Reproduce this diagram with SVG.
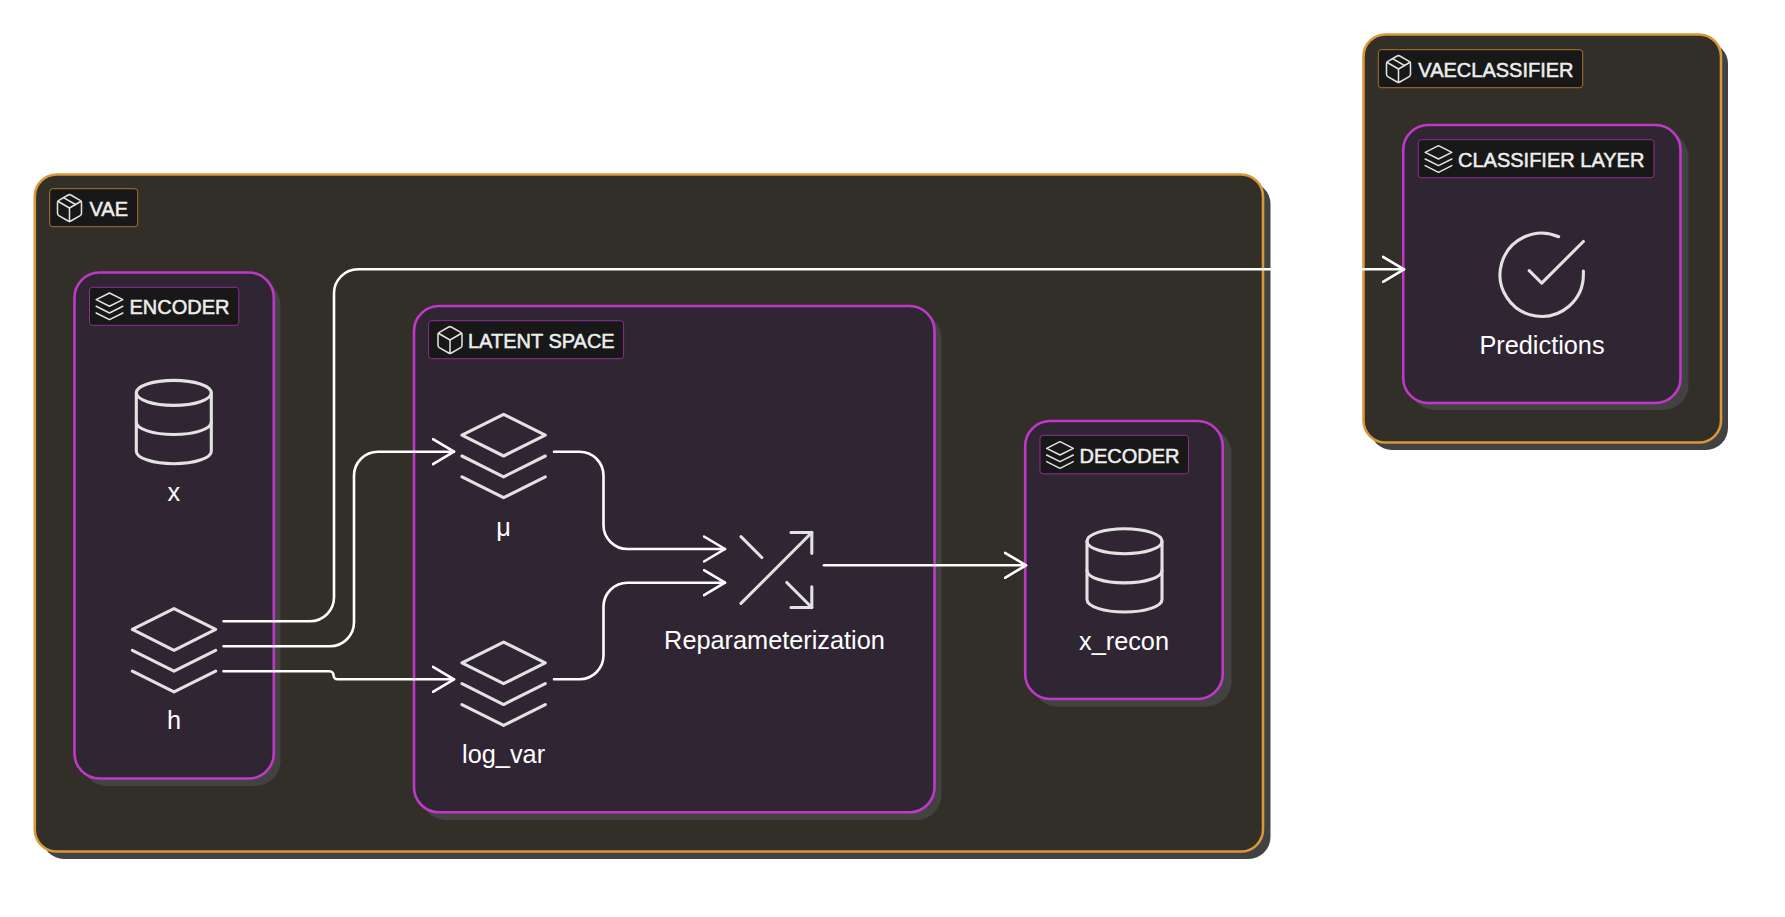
<svg xmlns="http://www.w3.org/2000/svg" xmlns:xlink="http://www.w3.org/1999/xlink" width="1785" height="917" viewBox="0 0 1785 917">
<style>
.shadow{fill:#424242;stroke:none}
.outer{fill:#322f28;stroke:#d8973a;stroke-width:2.6}
.inner{fill:#302633;stroke:#c038c8;stroke-width:2.6}
.tag{fill:#181818;stroke-width:1}
.tag.o{stroke:#a8762f}
.tag.m{stroke:#8f2d96}
.tagtext{font-family:"Liberation Sans",Arial,sans-serif;font-size:20px;fill:#eeeeee;stroke:#eeeeee;stroke-width:.5}
.nodetext{font-family:"Liberation Sans",Arial,sans-serif;font-size:25.3px;fill:#ffffff;text-anchor:middle}
.ic{fill:none;stroke:#e2e2e2;stroke-linecap:round;stroke-linejoin:round}
.big{stroke-width:.74}
.small{stroke-width:1.15}
.conn{fill:none;stroke:#ffffff;stroke-width:2.6;stroke-linecap:round;stroke-linejoin:round}
</style>
<defs>
<g id="i-db"><ellipse cx="12" cy="5" rx="9" ry="3"/><path d="M3 5V19A9 3 0 0 0 21 19V5"/><path d="M3 12A9 3 0 0 0 21 12"/></g>
<g id="i-layers"><polygon points="12 2 2 7 12 12 22 7 12 2"/><polyline points="2 17 12 22 22 17"/><polyline points="2 12 12 17 22 12"/></g>
<g id="i-box"><path d="M21 16V8a2 2 0 0 0-1-1.73l-7-4a2 2 0 0 0-2 0l-7 4A2 2 0 0 0 3 8v8a2 2 0 0 0 1 1.73l7 4a2 2 0 0 0 2 0l7-4A2 2 0 0 0 21 16z"/><polyline points="3.27 6.96 12 12.01 20.73 6.96"/><line x1="12" y1="22.08" x2="12" y2="12"/></g>
<g id="i-package"><line x1="16.5" y1="9.4" x2="7.5" y2="4.21"/><use href="#i-box"/></g>
<g id="i-shuffle"><polyline points="16 3 21 3 21 8"/><line x1="4" y1="20" x2="21" y2="3"/><polyline points="21 16 21 21 16 21"/><line x1="15" y1="15" x2="21" y2="21"/><line x1="4" y1="4" x2="9" y2="9"/></g>
<g id="i-check"><path d="M22 11.08V12a10 10 0 1 1-5.93-9.14"/><polyline points="22 4 12 14.01 9 11.01"/></g>
<marker id="arrow" viewBox="0 0 24 28" refX="22" refY="14" markerWidth="24" markerHeight="28" markerUnits="userSpaceOnUse" orient="auto"><polyline points="1 1.5 22 14 1 26.5" fill="none" stroke="#ffffff" stroke-width="2.6" stroke-linecap="round" stroke-linejoin="round"/></marker>
</defs>

<g id="vae">
<rect class="shadow" x="42" y="182" width="1228.5" height="677" rx="22"/>
<rect class="outer" x="34.8" y="174.5" width="1228.2" height="677" rx="22"/>
<rect class="tag o" x="49.7" y="188.7" width="88" height="38" rx="3"/>
<use class="ic small" href="#i-package" transform="translate(53.5 192) scale(1.333)"/>
<text class="tagtext" x="89.5" y="215.7">VAE</text>
</g>

<g id="encoder">
<rect class="shadow" x="81.5" y="280" width="199" height="506" rx="25"/>
<rect class="inner" x="74.5" y="272.5" width="199.3" height="506" rx="25"/>
<rect class="tag m" x="89.5" y="287.3" width="149.3" height="38" rx="3"/>
<use class="ic small" href="#i-layers" transform="translate(93.5 290.3) scale(1.333)"/>
<text class="tagtext" x="129.5" y="314.3">ENCODER</text>
</g>
<g id="node-x">
<use class="ic big" href="#i-db" transform="translate(123.8 372) scale(4.167)"/>
<text class="nodetext" x="173.8" y="501">x</text>
</g>
<g id="node-h">
<use class="ic big" href="#i-layers" transform="translate(124 600.3) scale(4.167)"/>
<text class="nodetext" x="174" y="729">h</text>
</g>

<g id="latent-space">
<rect class="shadow" x="421" y="313" width="520.5" height="507" rx="25"/>
<rect class="inner" x="414" y="306" width="520.5" height="506.3" rx="25"/>
<rect class="tag m" x="428.6" y="320.7" width="195" height="38" rx="3"/>
<use class="ic small" href="#i-box" transform="translate(434 324) scale(1.333)"/>
<text class="tagtext" x="468" y="348">LATENT SPACE</text>
</g>
<g id="node-mu">
<use class="ic big" href="#i-layers" transform="translate(453.6 406) scale(4.167)"/>
<text class="nodetext" x="503.6" y="535.5">μ</text>
</g>
<g id="node-log-var">
<use class="ic big" href="#i-layers" transform="translate(453.6 633.7) scale(4.167)"/>
<text class="nodetext" x="503.6" y="762.7">log_var</text>
</g>
<g id="node-reparam">
<use class="ic big" href="#i-shuffle" transform="translate(724.3 520) scale(4.167)"/>
<text class="nodetext" x="774.5" y="649">Reparameterization</text>
</g>

<g id="decoder">
<rect class="shadow" x="1032" y="428" width="199.5" height="278.5" rx="25"/>
<rect class="inner" x="1025.2" y="421" width="197.5" height="278" rx="25"/>
<rect class="tag m" x="1040" y="435.3" width="148.5" height="38.5" rx="3"/>
<use class="ic small" href="#i-layers" transform="translate(1044 439) scale(1.333)"/>
<text class="tagtext" x="1079.5" y="462.8">DECODER</text>
</g>
<g id="node-x-recon">
<use class="ic big" href="#i-db" transform="translate(1074.5 520.4) scale(4.167)"/>
<text class="nodetext" x="1124" y="649.5">x_recon</text>
</g>

<g id="vaeclassifier">
<rect class="shadow" x="1370" y="42" width="358" height="408" rx="22"/>
<rect class="outer" x="1363.5" y="34.5" width="357.5" height="408" rx="22"/>
<rect class="tag o" x="1378.3" y="49.7" width="204.4" height="38" rx="3"/>
<use class="ic small" href="#i-package" transform="translate(1382.5 53) scale(1.333)"/>
<text class="tagtext" x="1418.3" y="76.8">VAECLASSIFIER</text>
</g>
<g id="classifier-layer">
<rect class="shadow" x="1410" y="132" width="278.5" height="278" rx="25"/>
<rect class="inner" x="1403.2" y="125" width="277.3" height="278" rx="25"/>
<rect class="tag m" x="1418.3" y="139.7" width="235.7" height="38" rx="3"/>
<use class="ic small" href="#i-layers" transform="translate(1422.5 143) scale(1.333)"/>
<text class="tagtext" x="1458" y="166.8">CLASSIFIER LAYER</text>
</g>
<g id="node-predictions">
<use class="ic big" href="#i-check" transform="translate(1491.7 224.8) scale(4.167)"/>
<text class="nodetext" x="1542" y="354">Predictions</text>
</g>

<g id="connectors">
<path class="conn" marker-end="url(#arrow)" d="M223.5 621.3H310A24 24 0 0 0 334 597.3V293.3A24 24 0 0 1 358 269.3H1404"/>
<path class="conn" marker-end="url(#arrow)" d="M223.5 646.3H330A24 24 0 0 0 354 622.3V475.7A24 24 0 0 1 378 451.7H454"/>
<path class="conn" marker-end="url(#arrow)" d="M223.5 671.3H329.5A4 4 0 0 1 333.5 675.3A4 4 0 0 0 337.5 679.3H454"/>
<path class="conn" marker-end="url(#arrow)" d="M554 451.7H579.5A24 24 0 0 1 603.5 475.7V525A24 24 0 0 0 627.5 549H725"/>
<path class="conn" marker-end="url(#arrow)" d="M554 679.3H579.5A24 24 0 0 0 603.5 655.3V606.7A24 24 0 0 1 627.5 582.7H725"/>
<path class="conn" marker-end="url(#arrow)" d="M824 565.3H1026"/>
</g>
</svg>
